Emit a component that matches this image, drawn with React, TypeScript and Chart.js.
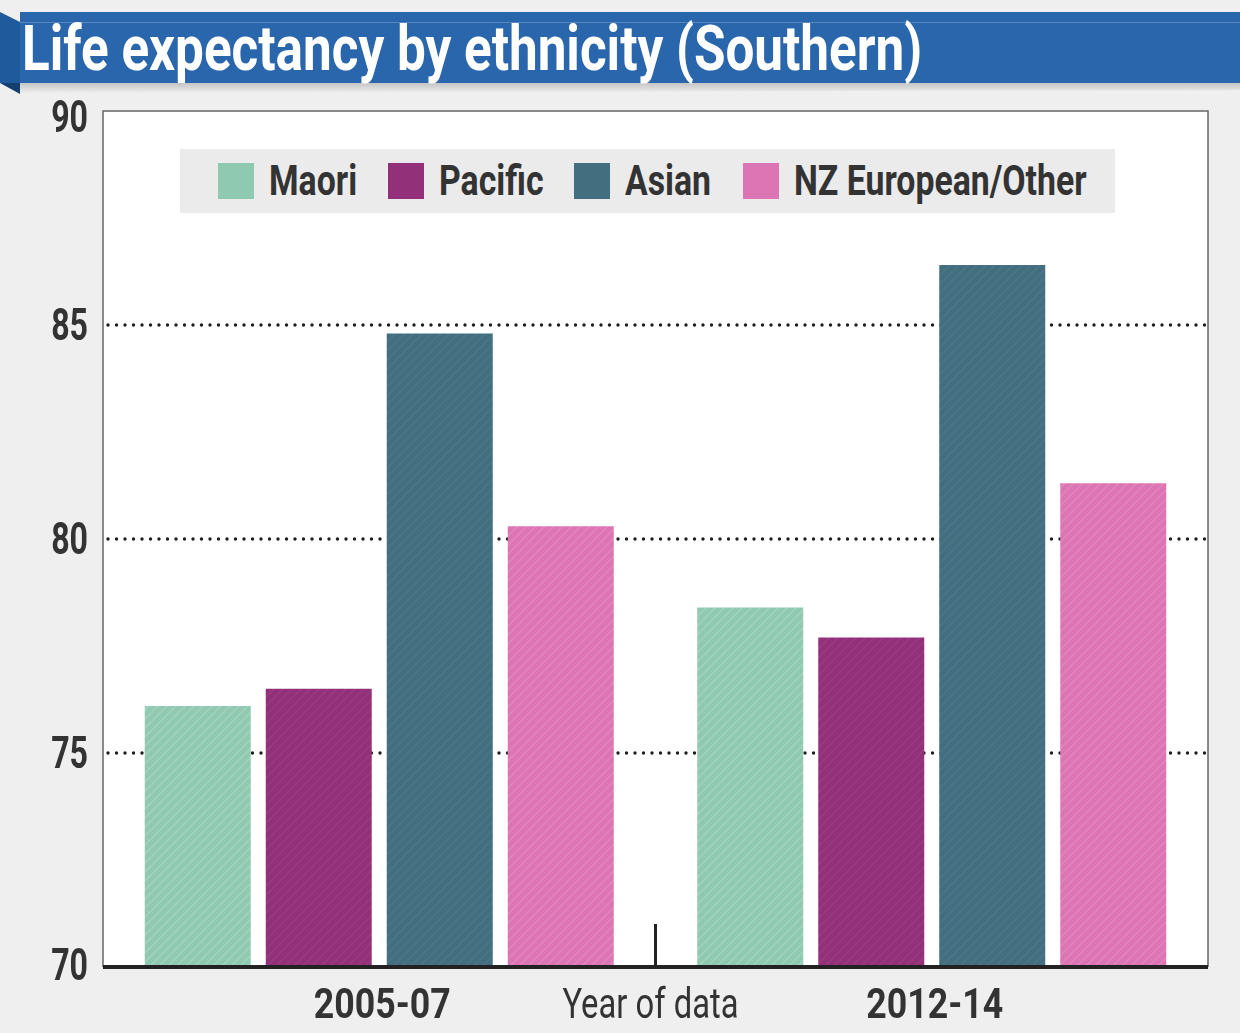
import { useRef, useEffect, useLayoutEffect, useState } from "react"
import { Chart, registerables, type ChartConfiguration, type Plugin } from "chart.js"

Chart.register(...registerables)

// data
const periods = ["2005-07", "2012-14"]
const groups = ["Maori", "Pacific", "Asian", "NZ European/Other"]
const maori = [76.1, 78.4]
const pacific = [76.5, 77.7]
const asian = [84.8, 86.4]
const nzEuropean = [80.3, 81.3]
const yTicks = [70, 75, 80, 85, 90]
const axisTitle = "Year of data"
const title = "Life expectancy by ethnicity (Southern)"

const colors = ["#8fc9b1", "#93307a", "#426e80", "#dd74b4"]
const hatchAlpha = [0.16, 0.05, 0.05, 0.12]
const ink = "#333333"
const font = "Roboto, 'Liberation Sans', sans-serif"

// faint diagonal hatching like the print graphic
function hatch(color: string, alpha: number) {
  const n = 9
  const c = document.createElement("canvas")
  c.width = n
  c.height = n
  const g = c.getContext("2d")!
  g.fillStyle = color
  g.fillRect(0, 0, n, n)
  g.strokeStyle = `rgba(255,255,255,${alpha})`
  g.lineWidth = 1.6
  g.beginPath()
  g.moveTo(0, n)
  g.lineTo(n, 0)
  g.moveTo(-2, 2)
  g.lineTo(2, -2)
  g.moveTo(n - 2, n + 2)
  g.lineTo(n + 2, n - 2)
  g.stroke()
  return g.createPattern(c, "repeat") || color
}

function squeezed(
  ctx: CanvasRenderingContext2D,
  text: string,
  x: number,
  y: number,
  align: CanvasTextAlign,
  sx: number,
  f: string
) {
  ctx.save()
  ctx.font = f
  ctx.fillStyle = ink
  ctx.textAlign = align
  ctx.textBaseline = "alphabetic"
  ctx.translate(x, y)
  ctx.scale(sx, 1)
  ctx.fillText(text, 0, 0)
  ctx.restore()
}

const frame: Plugin<"bar"> = {
  id: "frame",
  beforeDatasetsDraw(chart) {
    const { ctx, chartArea: a, scales } = chart
    const y = scales.y
    ctx.save()
    ctx.fillStyle = "#ffffff"
    ctx.fillRect(a.left, a.top, a.right - a.left, a.bottom - a.top)
    // dotted grid
    ctx.strokeStyle = "#1e1e1e"
    ctx.lineWidth = 3.4
    ctx.lineCap = "round"
    ctx.setLineDash([0, 8.5])
    yTicks.slice(1, -1).forEach((v) => {
      const py = Math.round(y.getPixelForValue(v))
      ctx.beginPath()
      ctx.moveTo(a.left + 5, py)
      ctx.lineTo(a.right - 2, py)
      ctx.stroke()
    })
    ctx.restore()
  },
  afterDatasetsDraw(chart) {
    const { ctx, chartArea: a, scales } = chart
    const x = scales.x
    const y = scales.y
    ctx.save()
    // thin frame
    ctx.strokeStyle = "#666666"
    ctx.lineWidth = 1.5
    ctx.beginPath()
    ctx.moveTo(a.left, a.bottom)
    ctx.lineTo(a.left, a.top)
    ctx.lineTo(a.right, a.top)
    ctx.lineTo(a.right, a.bottom)
    ctx.stroke()
    // heavy base line
    ctx.strokeStyle = "#222222"
    ctx.lineWidth = 4
    ctx.beginPath()
    ctx.moveTo(a.left, a.bottom)
    ctx.lineTo(a.right, a.bottom)
    ctx.stroke()
    // divider tick between periods
    const mid = (x.getPixelForValue(0) + x.getPixelForValue(1)) / 2
    ctx.lineWidth = 3
    ctx.beginPath()
    ctx.moveTo(mid, a.bottom)
    ctx.lineTo(mid, a.bottom - 43)
    ctx.stroke()
    ctx.restore()

    yTicks.forEach((v) => {
      const py = y.getPixelForValue(v)
      const base = Math.max(py + 15, a.top + 21)
      squeezed(ctx, String(v), a.left - 15, Math.min(base, a.bottom + 13), "right", 0.73, `bold 44px ${font}`)
    })
    periods.forEach((p, i) => {
      squeezed(ctx, p, x.getPixelForValue(i) + 3, a.bottom + 51, "center", 0.85, `bold 42px ${font}`)
    })
    squeezed(ctx, axisTitle, mid - 5, a.bottom + 51, "center", 0.78, `42px ${font}`)
  },
}

function Squeeze({
  text,
  scale,
  width,
  style,
}: {
  text: string
  scale?: number
  width?: number
  style: React.CSSProperties
}) {
  const ref = useRef<HTMLSpanElement>(null)
  const [box, setBox] = useState<{ w: number; s: number } | null>(null)

  useLayoutEffect(() => {
    const measure = () => {
      if (!ref.current) return
      const natural = ref.current.offsetWidth
      const s = width ? width / natural : scale ?? 1
      setBox({ w: natural * s, s })
    }
    measure()
    document.fonts?.ready.then(measure)
  }, [text, scale, width])

  return (
    <span style={{ display: "inline-block", width: box ? box.w : undefined, whiteSpace: "nowrap" }}>
      <span
        ref={ref}
        style={{
          display: "inline-block",
          whiteSpace: "nowrap",
          transformOrigin: "left center",
          transform: `scaleX(${box ? box.s : scale ?? 1})`,
          ...style,
        }}
      >
        {text}
      </span>
    </span>
  )
}

export default function App() {
  const chartRef = useRef<HTMLCanvasElement>(null)
  const chartInstance = useRef<Chart<"bar"> | null>(null)

  useEffect(() => {
    if (!chartRef.current) return
    const ctx = chartRef.current.getContext("2d")
    if (!ctx) return

    const series = [maori, pacific, asian, nzEuropean]

    const config: ChartConfiguration<"bar"> = {
      type: "bar",
      data: {
        labels: periods,
        datasets: groups.map((g, i) => ({
          label: g,
          data: series[i],
          backgroundColor: hatch(colors[i], hatchAlpha[i]),
          borderWidth: 0,
          categoryPercentage: 0.876,
          barPercentage: 0.876,
        })),
      },
      options: {
        responsive: false,
        animation: false,
        layout: { padding: { left: 103, right: 32, top: 111, bottom: 66 } },
        plugins: {
          legend: { display: false },
          tooltip: { enabled: false },
        },
        scales: {
          x: { display: false },
          y: { display: false, min: 70, max: 90 },
        },
      },
      plugins: [frame],
    }

    chartInstance.current = new Chart(ctx, config)

    return () => {
      if (chartInstance.current) {
        chartInstance.current.destroy()
        chartInstance.current = null
      }
    }
  }, [])

  return (
    <div
      style={{
        position: "absolute",
        left: 0,
        top: 0,
        width: 1240,
        height: 1033,
        background: "#efefef",
        overflow: "hidden",
        fontFamily: font,
      }}
    >
      <canvas
        ref={chartRef}
        width={1240}
        height={1033}
        style={{ position: "absolute", left: 0, top: 0, width: 1240, height: 1033 }}
      />

      {/* title ribbon */}
      <svg width={1240} height={100} style={{ position: "absolute", left: 0, top: 0 }}>
        <defs>
          <linearGradient id="shade" x1="0" y1="0" x2="0" y2="1">
            <stop offset="0" stopColor="#c4c4c4" />
            <stop offset="1" stopColor="#efefef" />
          </linearGradient>
        </defs>
        <polygon points="20,83 1240,83 1240,90 20,93" fill="url(#shade)" />
        <rect x={20} y={12} width={1220} height={71} fill="#2a66ac" />
        <rect x={20} y={22} width={1220} height={1} fill="rgba(255,255,255,0.22)" />
        <polygon points="0,12 20,22 20,83 0,83" fill="#1f5b9c" />
        <polygon points="0,83 20,83 20,94" fill="#123f6e" />
      </svg>
      <div style={{ position: "absolute", left: 22, top: 17, lineHeight: "63px" }}>
        <Squeeze
          text={title}
          width={900}
          style={{ fontSize: 63, fontWeight: 700, color: "#ffffff", lineHeight: "63px" }}
        />
      </div>

      {/* legend */}
      <div
        style={{
          position: "absolute",
          left: 180,
          top: 149,
          width: 935,
          height: 64,
          background: "#ebebeb",
          display: "flex",
          alignItems: "center",
          paddingLeft: 38,
          boxSizing: "border-box",
        }}
      >
        {groups.map((g, i) => (
          <div key={g} style={{ display: "flex", alignItems: "center", marginRight: 31 }}>
            <div style={{ width: 36, height: 36, background: colors[i], marginRight: 15 }} />
            <Squeeze
              text={g}
              scale={0.805}
              style={{ fontSize: 42, fontWeight: 700, color: ink, lineHeight: "42px" }}
            />
          </div>
        ))}
      </div>
    </div>
  )
}
